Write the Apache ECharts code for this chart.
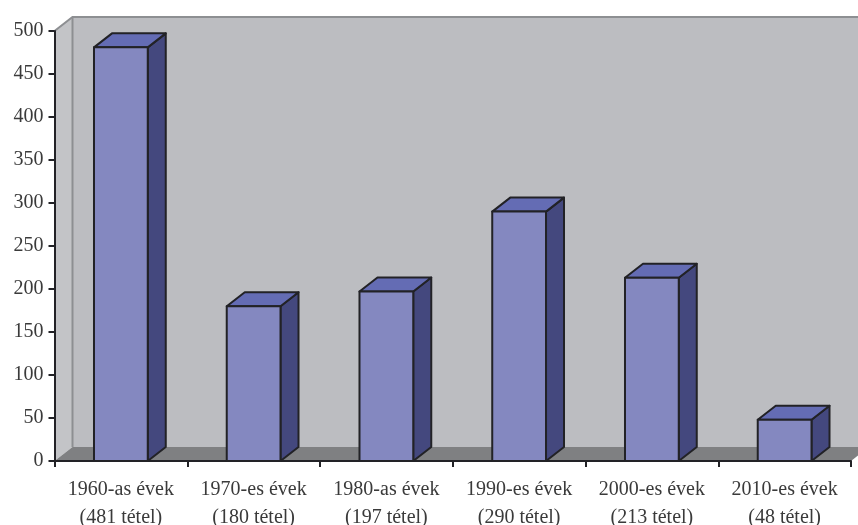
<!DOCTYPE html>
<html><head><meta charset="utf-8">
<style>html,body{margin:0;padding:0;background:#fff}#c{width:858px;height:525px}</style>
<script src="https://cdn.jsdelivr.net/npm/echarts@6/dist/echarts.min.js"></script>
</head><body><div id="c"></div>
<script>
const decades = ['1960-as évek','1970-es évek','1980-as évek','1990-es évek','2000-es évek','2010-es évek'];
const counts = [481,180,197,290,213,48];
const itemCounts = [481,180,197,290,213,48];
const yTicks = [0,50,100,150,200,250,300,350,400,450,500];

const DX = 18, DY = -14, FONT = '"Liberation Serif", serif', TXT = '#3a3a3a';
const categories = decades.map((d,i)=>d+'\n('+itemCounts[i]+' tétel)');
const chart = echarts.init(document.getElementById('c'),null,{renderer:'canvas'});

function poly(points,fill,stroke,lw){
  return {type:'polygon',shape:{points},style:{fill,stroke:stroke||null,lineWidth:lw||0,lineJoin:'round'}};
}
function walls(params,api){
  const c = params.coordSys, L=c.x, R=c.x+c.width, T=c.y, B=c.y+c.height;
  const edge='#8d8f92';
  return {type:'group',silent:true,children:[
    poly([[L+DX,T+DY],[R+DX,T+DY],[R+DX,B+DY],[L+DX,B+DY]],'#bcbdc1'),
    poly([[L,T],[L+DX,T+DY],[L+DX,B+DY],[L,B]],'#c3c4c7'),
    poly([[L,B],[L+DX,B+DY],[R+DX,B+DY],[R,B]],'#7f8082'),
    {type:'polyline',shape:{points:[[L,T],[L+DX,T+DY],[R+DX,T+DY]]},style:{stroke:edge,lineWidth:2,fill:null}},
    {type:'line',shape:{x1:L+DX,y1:T+DY,x2:L+DX,y2:B+DY},style:{stroke:edge,lineWidth:2}}
  ]};
}
function bar(params,api){
  const p = api.coord([api.value(0),api.value(1)]), b = api.coord([api.value(0),0]);
  const w = api.size([1,0])[0]*0.405, x0=p[0]-w/2, x1=p[0]+w/2, t=p[1], y=b[1];
  const s='#222226', lw=2;
  return {type:'group',children:[
    poly([[x1,t],[x1+DX,t+DY],[x1+DX,y+DY],[x1,y]],'#44487e',s,lw),
    poly([[x0,t],[x0+DX,t+DY],[x1+DX,t+DY],[x1,t]],'#646cb4',s,lw),
    poly([[x0,t],[x1,t],[x1,y],[x0,y]],'#8488c0',s,lw)
  ]};
}
chart.setOption({
  animation:false,
  backgroundColor:'#fff',
  grid:{left:54.5,right:7,top:31,bottom:64,containLabel:false,outerBoundsMode:'none'},
  xAxis:{type:'category',data:categories,boundaryGap:true,z:5,
    axisLine:{onZero:false,lineStyle:{color:'#222226',width:2}},
    axisTick:{show:true,length:6,alignWithLabel:false,lineStyle:{color:'#222226',width:2}},
    axisLabel:{interval:0,margin:15,color:TXT,fontFamily:FONT,fontSize:20,lineHeight:28},
    splitLine:{show:false}},
  yAxis:{type:'value',min:0,max:500,interval:50,z:5,
    axisLine:{show:true,lineStyle:{color:'#222226',width:2}},
    axisTick:{show:true,length:6,lineStyle:{color:'#222226',width:2}},
    axisLabel:{margin:11,color:TXT,fontFamily:FONT,fontSize:20,padding:[5,0,0,0],
      formatter:v=>yTicks.includes(v)?String(v):''},
    splitLine:{show:false}},
  tooltip:{show:false},
  series:[
    {type:'custom',name:'walls',coordinateSystem:'cartesian2d',data:[[0,0]],renderItem:walls,clip:false,silent:true,z:1},
    {type:'custom',name:'tételek',coordinateSystem:'cartesian2d',
      data:counts.map((v,i)=>[i,v]),encode:{x:0,y:1},renderItem:bar,clip:false,z:10}
  ]
});
</script></body></html>
